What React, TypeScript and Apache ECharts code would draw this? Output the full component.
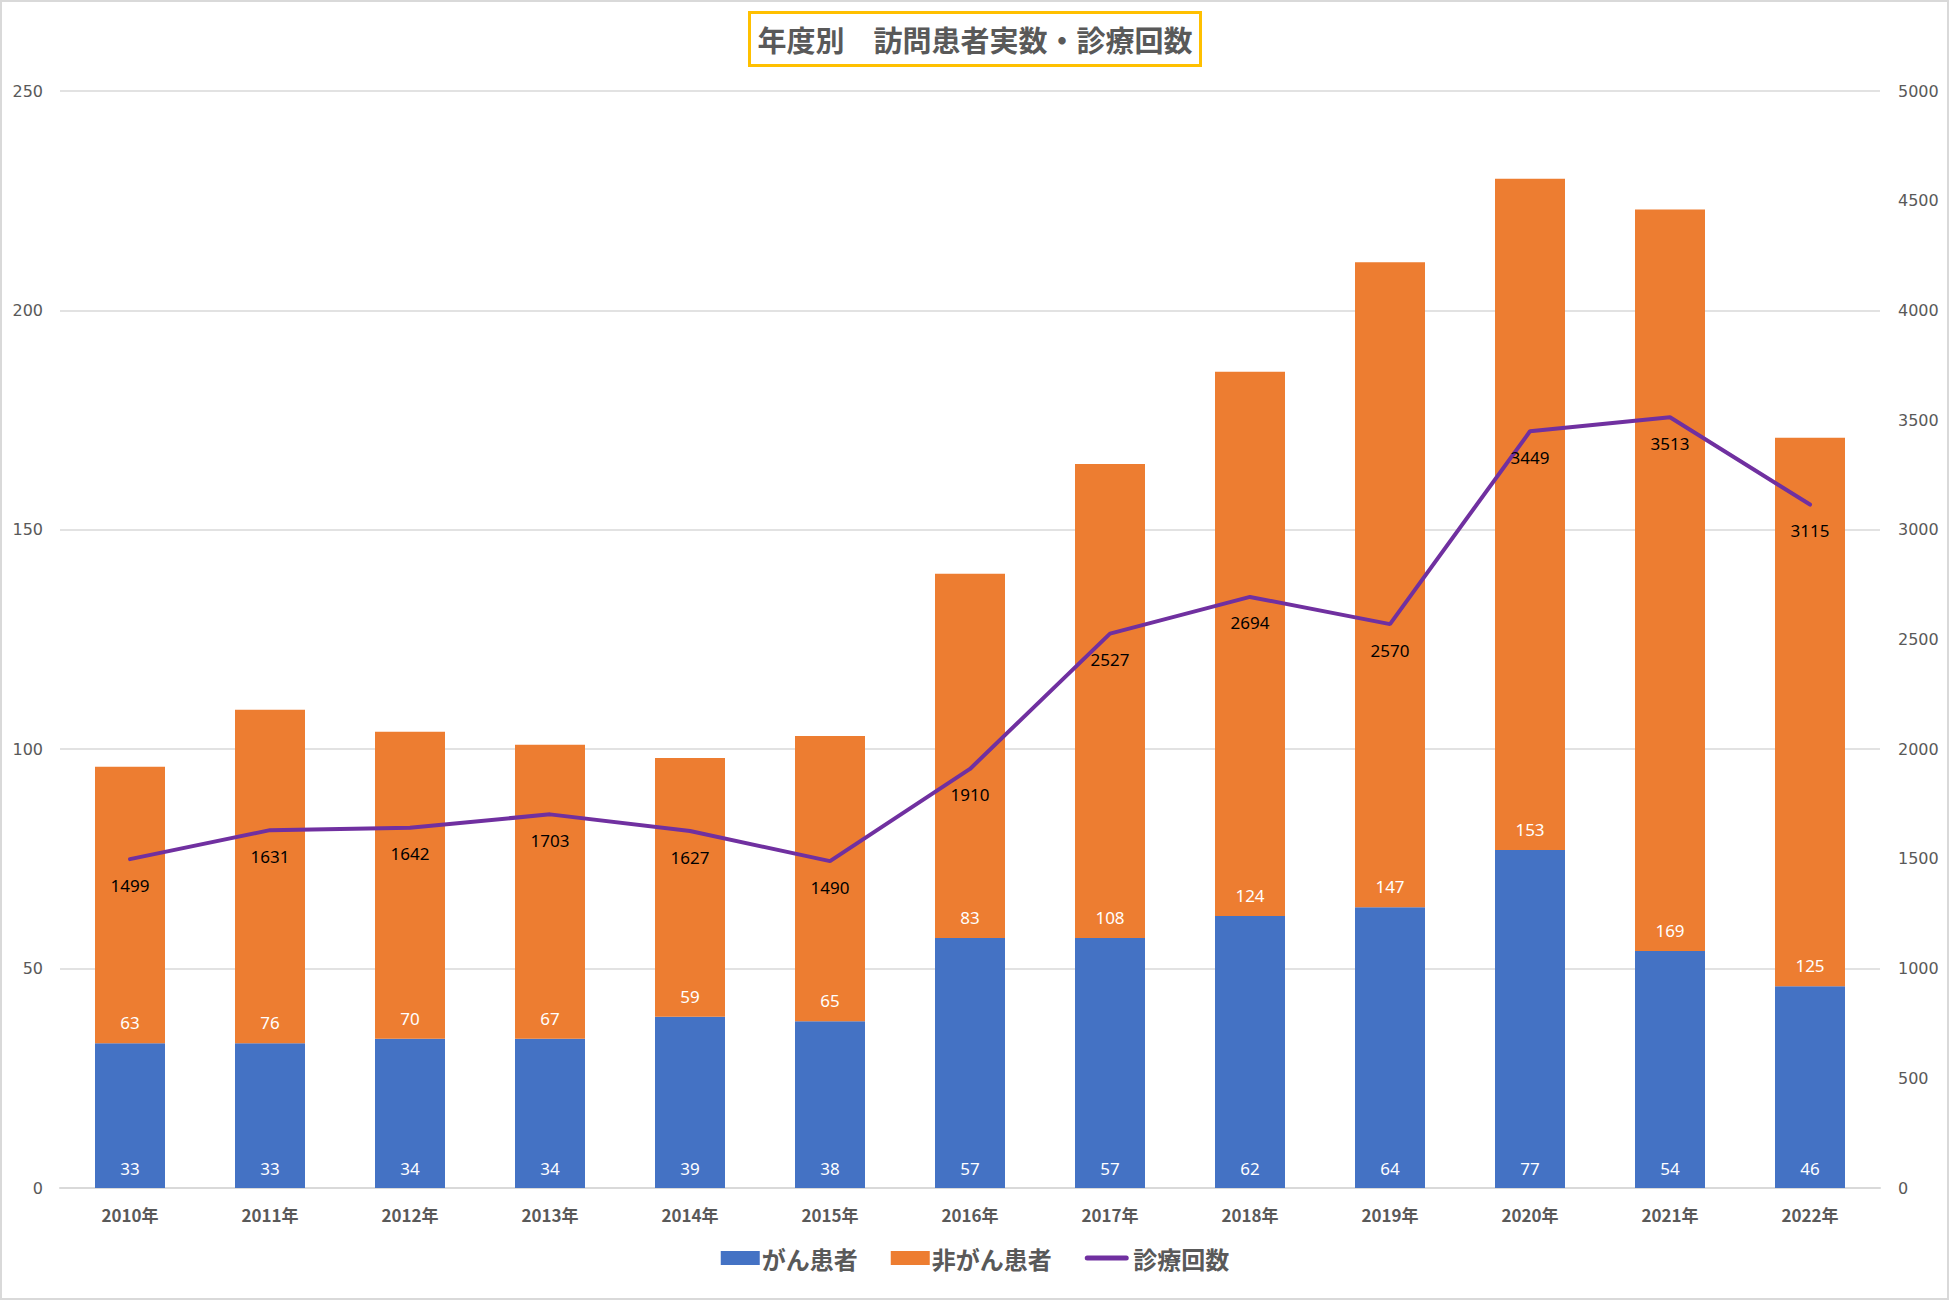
import React, { useEffect, useRef } from "react";
import * as echarts from "echarts";

const categories = ["2010年", "2011年", "2012年", "2013年", "2014年", "2015年", "2016年", "2017年", "2018年", "2019年", "2020年", "2021年", "2022年"];
const cancerPatients = [33, 33, 34, 34, 39, 38, 57, 57, 62, 64, 77, 54, 46];
const nonCancerPatients = [63, 76, 70, 67, 59, 65, 83, 108, 124, 147, 153, 169, 125];
const visitCounts = [1499, 1631, 1642, 1703, 1627, 1490, 1910, 2527, 2694, 2570, 3449, 3513, 3115];
const seriesNames = ["がん患者", "非がん患者", "診療回数"];
const titleText = "年度別　訪問患者実数・診療回数";

const tickFont = "DejaVu Sans";
const labelFont = "Noto Sans";
const cjkFont = "'Noto Sans CJK JP', 'Noto Sans', sans-serif";

export default function App() {
  const ref = useRef<HTMLDivElement>(null);
  useEffect(() => {
    document.body.style.margin = "0";
    const chart = echarts.init(ref.current!, null, { renderer: "svg" });
    chart.setOption({
      animation: false,
      backgroundColor: "#ffffff",
      graphic: [
        {
          type: "rect",
          shape: { x: 1, y: 1, width: 1947, height: 1298 },
          style: { fill: "none", stroke: "#D9D9D9", lineWidth: 2 },
          silent: true,
        },
      ],
      title: {
        text: titleText,
        left: "center",
        top: 12,
        padding: [11, 8],
        borderColor: "#FFC000",
        borderWidth: 3,
        textStyle: {
          fontFamily: cjkFont,
          fontSize: 29,
          fontWeight: "bold",
          color: "#595959",
          lineHeight: 32,
        },
      },
      legend: {
        bottom: 26,
        left: "center",
        itemWidth: 39,
        itemHeight: 14,
        itemGap: 33,
        textStyle: {
          fontFamily: cjkFont,
          fontSize: 24,
          fontWeight: "bold",
          color: "#595959",
          padding: [0, 0, 0, -3],
        },
        data: [
          { name: seriesNames[0], icon: "rect" },
          { name: seriesNames[1], icon: "rect" },
          {
            name: seriesNames[2],
            itemStyle: { opacity: 0 },
            lineStyle: { width: 5, color: "#7030A0", cap: "round" },
            textStyle: { padding: [0, 0, 0, 2] },
          },
        ],
      },
      grid: { left: 60, right: 70, top: 91, bottom: 113 },
      xAxis: {
        type: "category",
        data: categories,
        axisTick: { show: false },
        axisLine: { lineStyle: { color: "#D9D9D9", width: 2 } },
        axisLabel: {
          margin: 18,
          fontFamily: cjkFont,
          fontSize: 17,
          fontWeight: "bold",
          color: "#595959",
        },
      },
      yAxis: [
        {
          type: "value",
          min: 0,
          max: 250,
          interval: 50,
          axisLine: { show: false },
          axisTick: { show: false },
          splitLine: { lineStyle: { color: "#D9D9D9", width: 1.5 } },
          axisLabel: { margin: 17, fontFamily: tickFont, fontSize: 16, color: "#595959" },
        },
        {
          type: "value",
          min: 0,
          max: 5000,
          interval: 500,
          axisLine: { show: false },
          axisTick: { show: false },
          splitLine: { show: false },
          axisLabel: {
            margin: 18,
            fontFamily: tickFont,
            fontSize: 16,
            color: "#595959",
            formatter: (v: number) => String(v),
          },
        },
      ],
      series: [
        {
          name: seriesNames[0],
          type: "bar",
          stack: "patients",
          barWidth: "50%",
          data: cancerPatients,
          itemStyle: { color: "#4472C4" },
          label: {
            show: true,
            position: "insideBottom",
            distance: 11,
            color: "#ffffff",
            fontFamily: labelFont,
            fontSize: 17,
          },
        },
        {
          name: seriesNames[1],
          type: "bar",
          stack: "patients",
          barWidth: "50%",
          data: nonCancerPatients,
          itemStyle: { color: "#ED7D31" },
          label: {
            show: true,
            position: "insideBottom",
            distance: 12,
            color: "#ffffff",
            fontFamily: labelFont,
            fontSize: 17,
          },
        },
        {
          name: seriesNames[2],
          type: "line",
          yAxisIndex: 1,
          data: visitCounts,
          symbol: "circle",
          symbolSize: 1,
          itemStyle: { color: "#7030A0" },
          lineStyle: { color: "#7030A0", width: 4, cap: "round" },
          label: {
            show: true,
            position: "bottom",
            distance: 17,
            color: "#000000",
            fontFamily: labelFont,
            fontSize: 17,
          },
          z: 5,
        },
      ],
    });
    return () => chart.dispose();
  }, []);
  return <div ref={ref} style={{ position: "absolute", left: 0, top: 0, width: 1950, height: 1301 }} />;
}
